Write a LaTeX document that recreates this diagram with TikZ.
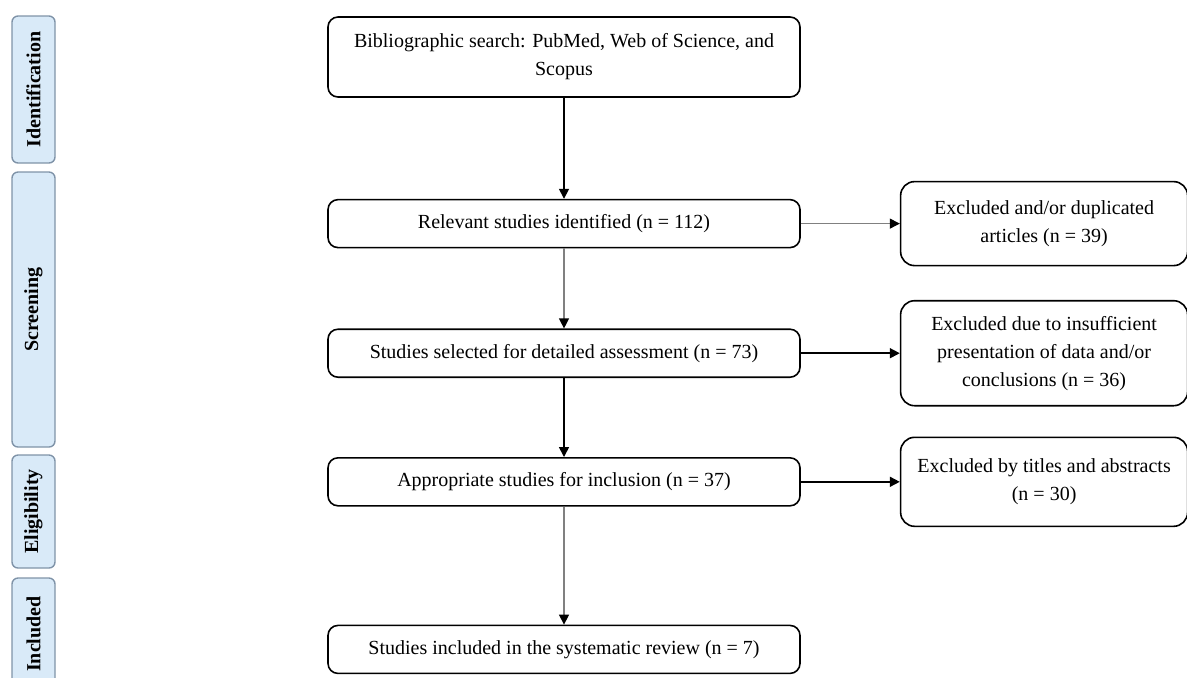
\documentclass[tikz,border=0pt]{standalone}
\usepackage{fontspec}
\setmainfont{Liberation Serif}
\usepackage{xcolor}
\usetikzlibrary{arrows.meta,positioning}

\definecolor{stagefill}{HTML}{D9EAF8}
\definecolor{stageline}{HTML}{7F93A8}

\begin{document}
\begin{tikzpicture}[
  x=0.5pt, y=-0.5pt,
  node distance=40pt and 49.5pt,
  box/.style={draw, line width=0.8pt, rounded corners=5pt, minimum width=236pt,
              minimum height=24pt, inner sep=0pt, align=center,
              font=\fontsize{10}{14}\selectfont},
  exclbox/.style={box, rounded corners=7pt, minimum width=143.5pt},
  stage/.style={draw=stageline, line width=0.7pt, fill=stagefill, rounded corners=3pt,
                rotate=90, minimum height=21.5pt, inner sep=0pt,
                font=\fontsize{10}{12}\selectfont\bfseries},
  arr/.style={-{Triangle[length=5pt, width=5pt]}, line width=0.8pt},
  thinarr/.style={-{Triangle[length=5pt, width=5pt, color=black]}, line width=0.6pt, gray}
]
  \useasboundingbox (0,0) rectangle (1187,677);

  % stage bars on the left
  \node[stage, minimum width=73.5pt] (ident) at (33.5,89.5) {Identification};
  \node[stage, minimum width=137.5pt] (screen) at (33.5,309.5) {Screening};
  \node[stage, minimum width=56.5pt] (elig) at (33.5,511.5) {Eligibility};
  \node[stage, minimum width=56pt] (incl) at (33.5,634) {Included};

  % main column
  \node[box, minimum height=40pt] (search) at (564,57)
    {Bibliographic search: PubMed, Web of Science, and\\Scopus};
  \node[box, below=50.5pt of search] (relevant) {Relevant studies identified (n = 112)};
  \node[box, below=of relevant] (selected) {Studies selected for detailed assessment (n = 73)};
  \node[box, below=39.5pt of selected] (approp) {Appropriate studies for inclusion (n = 37)};
  \node[box, below=59pt of approp] (review) {Studies included in the systematic review (n = 7)};

  % exclusions on the right
  \node[exclbox, minimum height=42pt, right=of relevant] (dupl)
    {Excluded and/or duplicated\\articles (n = 39)};
  \node[exclbox, minimum height=52.5pt, right=of selected] (insuff)
    {Excluded due to insufficient\\presentation of data and/or\\conclusions (n = 36)};
  \node[exclbox, minimum height=44.5pt, right=of approp] (titles)
    {Excluded by titles and abstracts\\(n = 30)};

  % Arrows
  \draw[arr] (search) -- (relevant);
  \draw[thinarr] (relevant) -- (selected);
  \draw[arr] (selected) -- (approp);
  \draw[thinarr] (approp) -- (review);
  \draw[thinarr] (relevant) -- (dupl);
  \draw[arr] (selected) -- (insuff);
  \draw[arr] (approp) -- (titles);
\end{tikzpicture}
\end{document}
